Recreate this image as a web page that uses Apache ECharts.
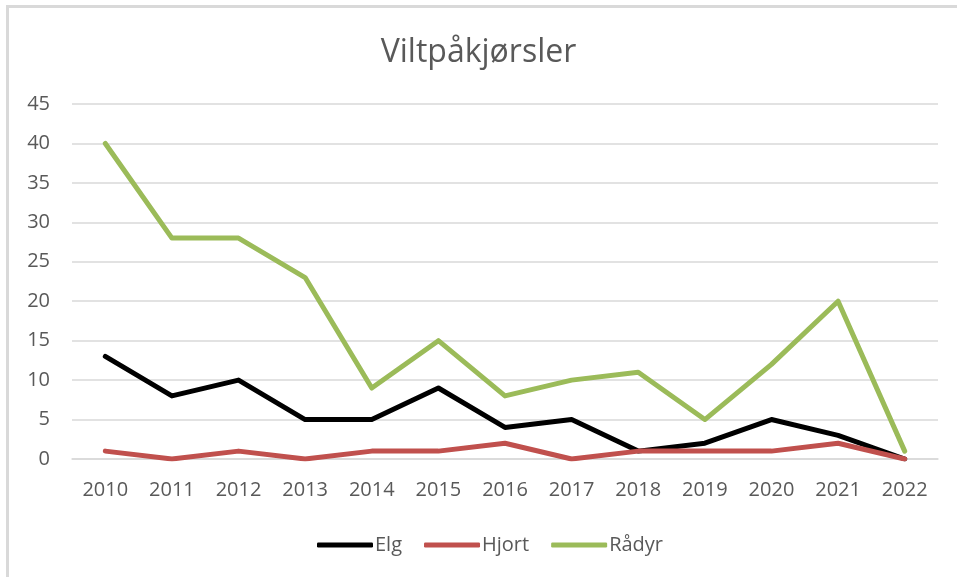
<!DOCTYPE html>
<html>
<head>
<meta charset="utf-8">
<script src="https://cdn.jsdelivr.net/npm/echarts@6/dist/echarts.min.js"></script>
<style>
html,body{margin:0;padding:0;background:#fff;}
#chart{width:957px;height:577px;}
</style>
</head>
<body>
<div id="chart"></div>
<script>
const years = ['2010','2011','2012','2013','2014','2015','2016','2017','2018','2019','2020','2021','2022'];
const elg   = [13, 8, 10, 5, 5, 9, 4, 5, 1, 2, 5, 3, 0];
const hjort = [1, 0, 1, 0, 1, 1, 2, 0, 1, 1, 1, 2, 0];
const radyr = [40, 28, 28, 23, 9, 15, 8, 10, 11, 5, 12, 20, 1];
const yTicks = {min: 0, max: 45, interval: 5};

const font = 'Open Sans, Liberation Sans, sans-serif';
const chart = echarts.init(document.getElementById('chart'), null, {renderer: 'canvas'});
function mk(name, data, color) {
  return {
    name, type: 'line', data, showSymbol: false, symbol: 'none',
    lineStyle: {color, width: 5, cap: 'round', join: 'round'},
    itemStyle: {color},
    animation: false
  };
}
chart.setOption({
  animation: false,
  graphic: [
    {type: 'rect', shape: {x: 6, y: 5, width: 3, height: 572}, style: {fill: '#d9d9d9'}},
    {type: 'rect', shape: {x: 6, y: 5, width: 951, height: 3}, style: {fill: '#d9d9d9'}}
  ],
  title: {
    text: 'Viltpåkjørsler', left: 'center', top: 32,
    textStyle: {fontFamily: font, fontSize: 32, fontWeight: 'normal', color: '#595959'}
  },
  legend: {
    bottom: 17, left: 312, itemGap: 22, itemWidth: 56, itemHeight: 5,
    icon: 'roundRect',
    textStyle: {fontFamily: font, fontSize: 20, color: '#595959', padding: [0, 0, 0, -3]},
    data: ['Elg', 'Hjort', 'Rådyr']
  },
  grid: {left: 72, right: 19, top: 104, bottom: 118, containLabel: false},
  xAxis: {
    type: 'category', data: years, boundaryGap: true,
    axisLine: {show: true, lineStyle: {color: '#d9d9d9', width: 1.5}},
    axisTick: {show: false},
    axisLabel: {fontFamily: font, fontSize: 20, color: '#595959', margin: 21}
  },
  yAxis: {
    type: 'value', min: yTicks.min, max: yTicks.max, interval: yTicks.interval,
    axisLine: {show: false}, axisTick: {show: false},
    splitLine: {lineStyle: {color: '#d9d9d9', width: 1.5}},
    axisLabel: {fontFamily: font, fontSize: 20, color: '#595959', margin: 22}
  },
  series: [
    mk('Elg', elg, '#000000'),
    mk('Hjort', hjort, '#c0504d'),
    mk('Rådyr', radyr, '#9bbb59')
  ]
});
</script>
</body>
</html>
